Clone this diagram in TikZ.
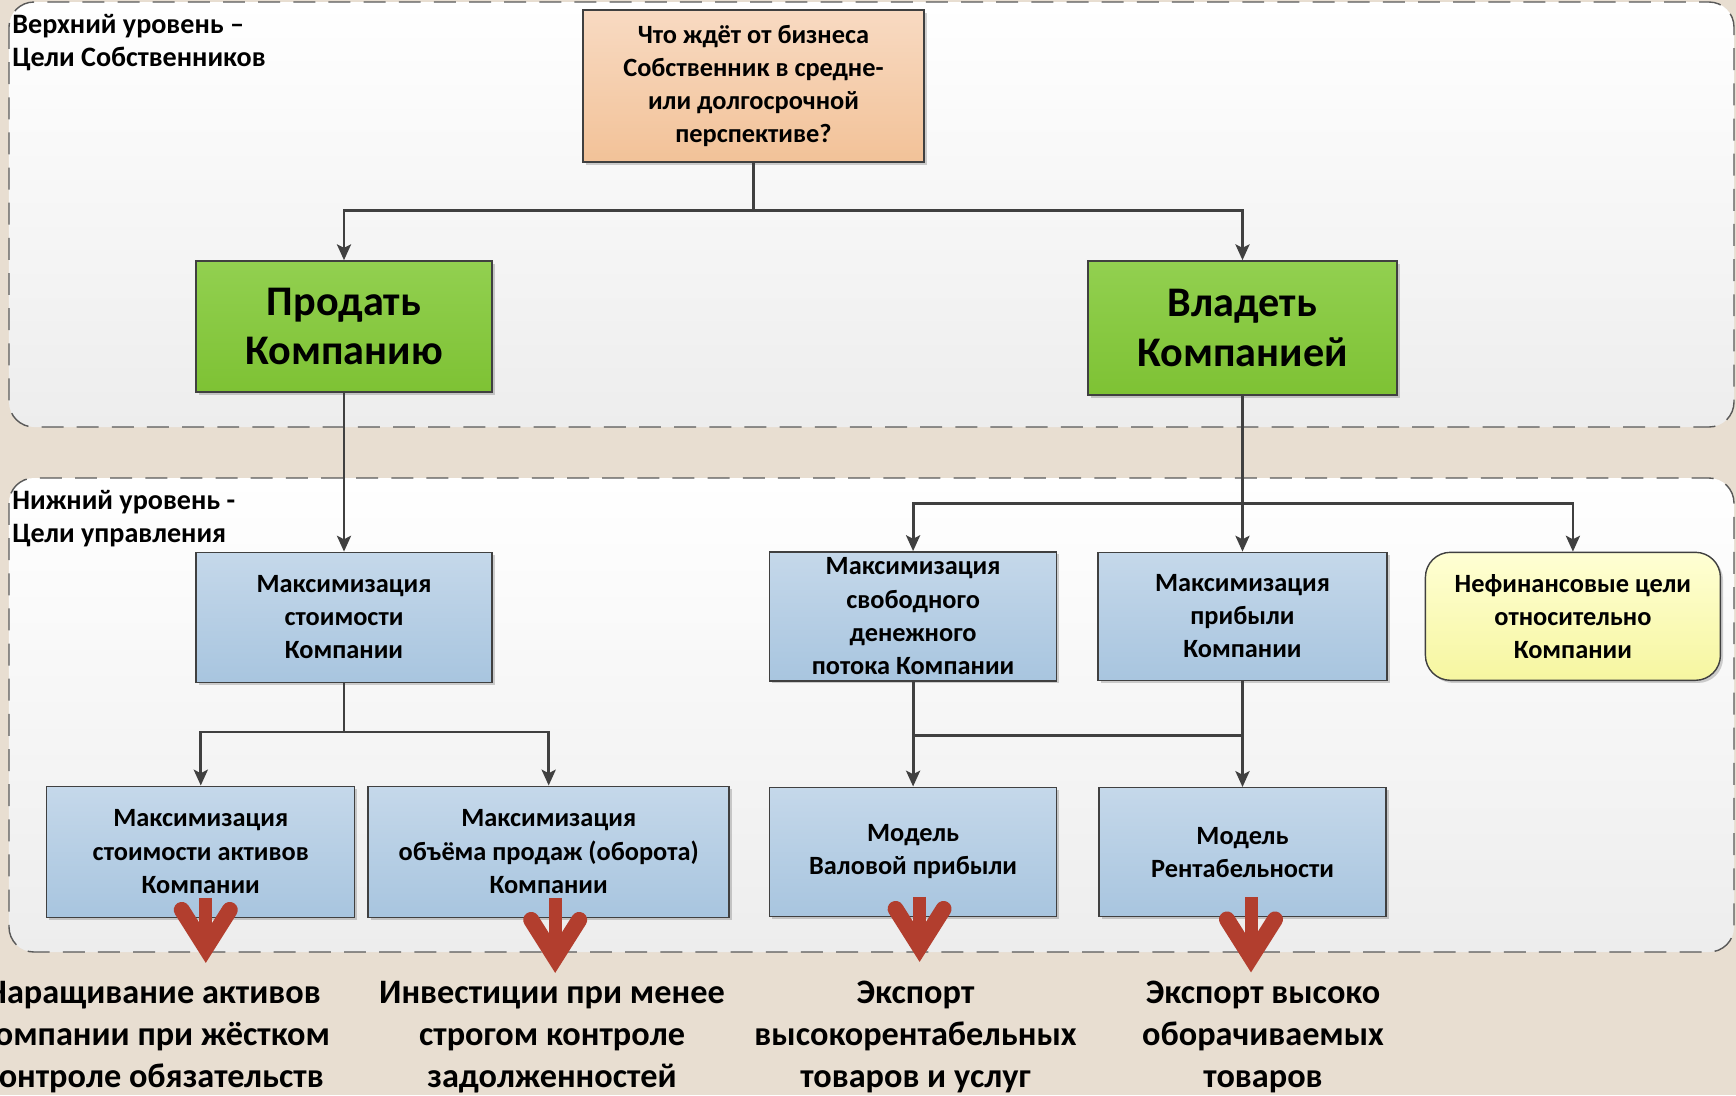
\documentclass[tikz,border=0pt]{standalone}
\usepackage{fontspec}
\setmainfont{Carlito}
\usepackage{xcolor}
\usepackage{tikz}
\usetikzlibrary{positioning,arrows.meta,shadows}

\definecolor{askTop}{RGB}{248,218,194}
\definecolor{askBot}{RGB}{242,194,152}
\definecolor{greenTop}{RGB}{146,208,80}
\definecolor{greenBot}{RGB}{126,194,52}
\definecolor{blueTop}{RGB}{197,216,234}
\definecolor{blueBot}{RGB}{168,197,223}
\definecolor{yellowTop}{RGB}{255,255,212}
\definecolor{yellowBot}{RGB}{246,246,160}
\definecolor{bgBeige}{RGB}{232,222,209}
\definecolor{panelBot}{RGB}{237,237,237}
\definecolor{lineGray}{RGB}{64,64,64}
\definecolor{redArrow}{RGB}{178,62,46}

% fat red arrow under a box: node, x offset, head offset
\newcommand{\redarrow}[3]{%
  \begin{scope}[shift={(#1.south)}]
    \draw[redstem] (#2,0.4) -- (#2,-0.4+#3);
    \draw[redhead] (#2-0.48,0.16+#3) -- (#2,-0.6+#3) -- (#2+0.48,0.16+#3);
  \end{scope}}

\begin{document}
\begin{tikzpicture}[node distance=2cm, auto]
    % Define styles
    \tikzstyle{panel} = [draw=black!65, line width=0.8pt, dash pattern=on 12.5pt off 7.5pt, rounded corners=0.5cm, top color=white, bottom color=panelBot]
    \tikzstyle{tier} = [font=\bfseries\fontsize{16}{18.9}\selectfont, align=left, anchor=west, inner sep=0pt]
    \tikzstyle{box} = [rectangle, draw=lineGray, line width=0.8pt, align=center, inner sep=2pt, font=\bfseries\fontsize{15}{18.9}\selectfont, drop shadow={shadow xshift=1.5pt, shadow yshift=-1.5pt, opacity=0.18, fill=black}]
    \tikzstyle{ask} = [box, top color=askTop, bottom color=askBot]
    \tikzstyle{choice} = [box, top color=greenTop, bottom color=greenBot, font=\bfseries\fontsize{24}{28}\selectfont]
    \tikzstyle{goal} = [box, top color=blueTop, bottom color=blueBot]
    \tikzstyle{softgoal} = [box, rounded corners=0.5cm, top color=yellowTop, bottom color=yellowBot]
    \tikzstyle{outcome} = [align=center, font=\bfseries\fontsize{19.5}{24}\selectfont]
    \tikzstyle{arrow} = [draw=lineGray, line width=1.6pt, -{Stealth[length=9pt, width=8pt, inset=2pt]}]
    \tikzstyle{link} = [draw=lineGray, line width=1.6pt]
    \tikzstyle{redstem} = [draw=redArrow, line width=7.4pt]
    \tikzstyle{redhead} = [draw=redArrow, line width=9.1pt, line cap=round, line join=miter]

    \useasboundingbox (0,0) rectangle (34.72,-21.9);
    \clip (0,0) rectangle (34.72,-21.9);
    \fill[bgBeige] (0,0) rectangle (34.72,-21.9);

    % Panels
    \draw[panel] (0.18,-0.04) rectangle (34.68,-8.54);
    \draw[panel] (0.18,-9.56) rectangle (34.68,-19.04);
    \node[tier] (upper) at (0.24,-0.85) {Верхний уровень –\\Цели Собственников};
    \node[tier] (lower) at (0.24,-10.37) {Нижний уровень -\\Цели управления};

    % Nodes
    \node [ask, minimum width=6.82cm, minimum height=3.04cm] (ask) at (15.07,-1.72) {Что ждёт от бизнеса\\Собственник в средне-\\или долгосрочной\\перспективе?};
    \node [choice, minimum width=5.92cm, minimum height=2.62cm, below=1.95cm of ask, xshift=-8.19cm] (sell) {Продать\\Компанию};
    \node [choice, minimum width=6.18cm, minimum height=2.68cm, below=1.95cm of ask, xshift=9.78cm] (own) {Владеть\\Компанией};
    \node [goal, minimum width=5.92cm, minimum height=2.6cm, below=3.18cm of sell] (maxval) {Максимизация\\стоимости\\Компании};
    \node [goal, minimum width=5.78cm, minimum height=2.56cm, below=3.12cm of own] (maxprofit) {Максимизация\\прибыли\\Компании};
    \node [goal, minimum width=5.74cm, minimum height=2.58cm, left=0.8cm of maxprofit] (maxcash) {Максимизация\\свободного\\денежного\\потока Компании};
    \node [softgoal, minimum width=5.9cm, minimum height=2.56cm, right=0.74cm of maxprofit] (nonfin) {Нефинансовые цели\\относительно\\Компании};
    \node [goal, minimum width=5.74cm, minimum height=2.58cm, below=2.1cm of maxcash] (gross) {Модель\\Валовой прибыли};
    \node [goal, minimum width=5.74cm, minimum height=2.58cm, below=2.12cm of maxprofit] (rentab) {Модель\\Рентабельности};
    \node [goal, minimum width=7.22cm, minimum height=2.62cm, left=0.78cm of gross] (sales) {Максимизация\\объёма продаж (оборота)\\Компании};
    \node [goal, minimum width=6.16cm, minimum height=2.62cm, left=0.24cm of sales] (assets) {Максимизация\\стоимости активов\\Компании};

    \node [outcome] (assetsout) at (3.06,-20.74) {Наращивание активов\\Компании при жёстком\\контроле обязательств};
    \node [outcome] (salesout) at (11.04,-20.74) {Инвестиции при менее\\строгом контроле\\задолженностей};
    \node [outcome] (grossout) at (18.31,-20.74) {Экспорт\\высокорентабельных\\товаров и услуг};
    \node [outcome] (rentabout) at (25.26,-20.74) {Экспорт высоко\\оборачиваемых\\товаров};

    % Arrows
    \draw [arrow] (ask.south) -- ++(0,-0.96) -| (sell.north);
    \draw [arrow] (ask.south) -- ++(0,-0.96) -| (own.north);
    \draw [arrow] (sell) -- (maxval);
    \draw [arrow] (own) -- (maxprofit);
    \draw [arrow] (own.south) -- ++(0,-2.15) -| (maxcash.north);
    \draw [arrow] (own.south) -- ++(0,-2.15) -| (nonfin.north);
    \draw [arrow] (maxval.south) -- ++(0,-0.98) -| (assets.north);
    \draw [arrow] (maxval.south) -- ++(0,-0.98) -| (sales.north);
    \draw [arrow] (maxcash) -- (gross);
    \draw [arrow] (maxprofit) -- (rentab);
    \coordinate (cashbar) at ([yshift=-1.08cm]maxcash.south);
    \draw [link] (cashbar) -- (cashbar -| maxprofit.south);

    % Red arrows
    \redarrow{assets}{0.1}{0}
    \redarrow{sales}{0.13}{-0.2}
    \redarrow{gross}{0.13}{0}
    \redarrow{rentab}{0.17}{-0.2}

\end{tikzpicture}
\end{document}
